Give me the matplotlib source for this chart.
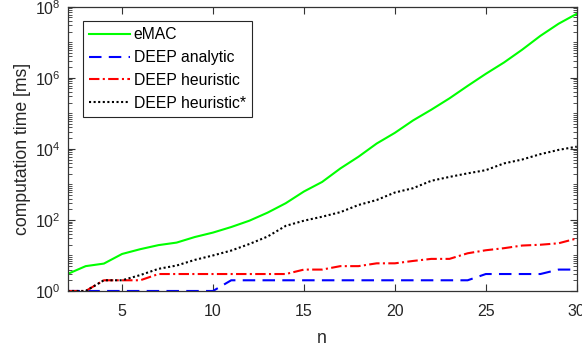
import numpy as np
import matplotlib
matplotlib.use("Agg")
import matplotlib.pyplot as plt
from matplotlib.ticker import FixedLocator, LogLocator, LogFormatterMathtext, NullFormatter

# problem size
n = list(range(2, 31))

# computation times [ms]
emac = [3.0, 5.0, 5.9, 11, 15, 19.5, 23, 33, 44, 63, 95, 160, 295, 630, 1170,
        2800, 6000, 14100, 28200, 63000, 126000, 263000, 590000, 1290000,
        2690000, 6170000, 15100000, 33100000, 63100000]
deep_analytic = [1, 1, 1, 1, 1, 1, 1, 1, 1, 2, 2, 2, 2, 2, 2, 2, 2, 2, 2, 2,
                 2, 2, 2, 3, 3, 3, 3, 4, 4]
deep_heuristic = [1, 1, 2, 2, 2, 3, 3, 3, 3, 3, 3, 3, 3, 4, 4, 5, 5, 6, 6, 7,
                  8, 8, 11.5, 14, 16, 19, 20, 22, 30]
deep_heuristic_star = [1, 1, 2, 2, 2.8, 4.2, 5.2, 7.5, 10, 13.7, 21, 34, 68, 95,
                       123, 165, 263, 363, 590, 780, 1260, 1620, 2040, 2510,
                       3890, 5000, 7080, 9330, 11500]

plt.rcParams['font.family'] = ['Liberation Sans', 'DejaVu Sans']
axis_col = '#333333'
text_col = '#262626'

fig = plt.figure(figsize=(5.82, 3.51), dpi=100)
ax = fig.add_axes([0.116, 0.171, 0.875, 0.810])

ax.plot(n, emac, color='#00ff00', lw=1.5, label='eMAC')
ax.plot(n, deep_analytic, color='#0000ff', lw=1.5, dashes=(6, 3.5), label='DEEP analytic')
ax.plot(n, deep_heuristic, color='#ff0000', lw=1.5, dashes=(5, 1.6, 1, 1.6), label='DEEP heuristic')
ax.plot(n, deep_heuristic_star, color='black', lw=1.5, dashes=(1, 1.2), label='DEEP heuristic*')

ax.set_yscale('log')
ax.set_xlim(2, 30)
ax.set_ylim(1, 1e8)
ax.set_xticks([5, 10, 15, 20, 25, 30])
ax.yaxis.set_major_locator(FixedLocator([1, 1e2, 1e4, 1e6, 1e8]))
ax.yaxis.set_major_formatter(LogFormatterMathtext())
ax.yaxis.set_minor_locator(LogLocator(base=10, subs=np.arange(1, 10), numticks=50))
ax.yaxis.set_minor_formatter(NullFormatter())

ax.tick_params(which='both', direction='in', top=True, right=True,
               colors=axis_col, labelcolor=text_col, labelsize=11.5)
ax.tick_params(which='major', length=5, width=0.8)
ax.tick_params(which='minor', length=3, width=0.6)
ax.tick_params(axis='x', which='major', pad=9.5)
ax.tick_params(axis='y', which='major', pad=5)
for s in ax.spines.values():
    s.set_color(axis_col)
    s.set_linewidth(0.9)

ax.set_xlabel('n', fontsize=12.7, color=text_col, labelpad=8)
ax.set_ylabel('computation time [ms]', fontsize=12.7, color=text_col, labelpad=3)

leg = ax.legend(loc='upper left', bbox_to_anchor=(0.03, 0.95), borderaxespad=0,
                fontsize=11.3, handlelength=2.6, handletextpad=0.25,
                labelspacing=0.5, borderpad=0.4, fancybox=False,
                framealpha=1, edgecolor=text_col)
leg.get_frame().set_linewidth(0.8)

fig.savefig('out.png', dpi=100)
